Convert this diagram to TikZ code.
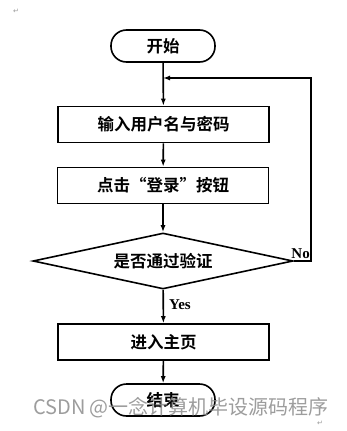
\documentclass[tikz,border=0pt]{standalone}
\usepackage{fontspec}
\setmainfont{Liberation Serif}
\newfontfamily\cjkreg{Noto Sans CJK SC}
\newfontfamily\cjkbold{Noto Sans CJK SC Bold}
\newfontfamily\djsym{DejaVu Sans}
\usetikzlibrary{shapes.geometric,arrows.meta}
\begin{document}
\begin{tikzpicture}[x=1pt,y=-1pt,
  every node/.style={inner sep=0pt},
  txt/.style={font=\fontsize{16.5}{19}\selectfont\cjkbold},
  box/.style={txt,draw,line width=1.6pt,minimum width=211pt,minimum height=36pt},
  term/.style={txt,draw,line width=1.6pt,minimum width=104pt,minimum height=32pt,rounded corners=15.5pt},
  dec/.style={txt,draw,line width=1.6pt,shape=diamond,aspect=4.6,minimum width=260pt,minimum height=56pt},
  conn/.style={line width=1.6pt,-{Latex[length=7pt,width=5pt]}},
  lbl/.style={font=\fontsize{15}{17}\selectfont\bfseries}]
\useasboundingbox[fill=white] (0,0) rectangle (346,431);
\node[term] (start) at (163,46) {开始};
\node[box] (b1) at (163.5,124.5) {输入用户名与密码};
\node[box] (b2) at (163,185.5) {点击“登录”按钮};
\node[dec] (d) at (163,261) {是否通过验证};
\node[box] (b3) at (163.5,342) {进入主页};
\node[term] (end) at (163,400) {结束};
\coordinate (j) at (163,78);
\coordinate (r1) at (311,261);
\coordinate (r2) at (311,78);
\draw[conn] (start) -- (b1);
\draw[conn] (b1) -- (b2);
\draw[conn] (b2) -- (d);
\draw[conn] (d) -- node[lbl,anchor=west,xshift=5pt,pos=0.45] (yes) {Yes} (b3);
\draw[conn] (b3) -- (end);
\draw[conn] (d.east) -- (r1) -- (r2) -- (j);
\node[lbl,anchor=south east] (no) at (310,259) {No};
\node[font=\fontsize{20}{23}\selectfont\cjkreg,text=black!45,opacity=0.85] (wm) at (181,408) {CSDN @一念计算机毕设源码程序};
\node[font=\fontsize{7}{8}\selectfont\djsym,text=black!40] (r0) at (16,11) {↵};
\node[font=\fontsize{7}{8}\selectfont\djsym,text=black!40] (r9) at (320,423) {↵};
\end{tikzpicture}
\end{document}
